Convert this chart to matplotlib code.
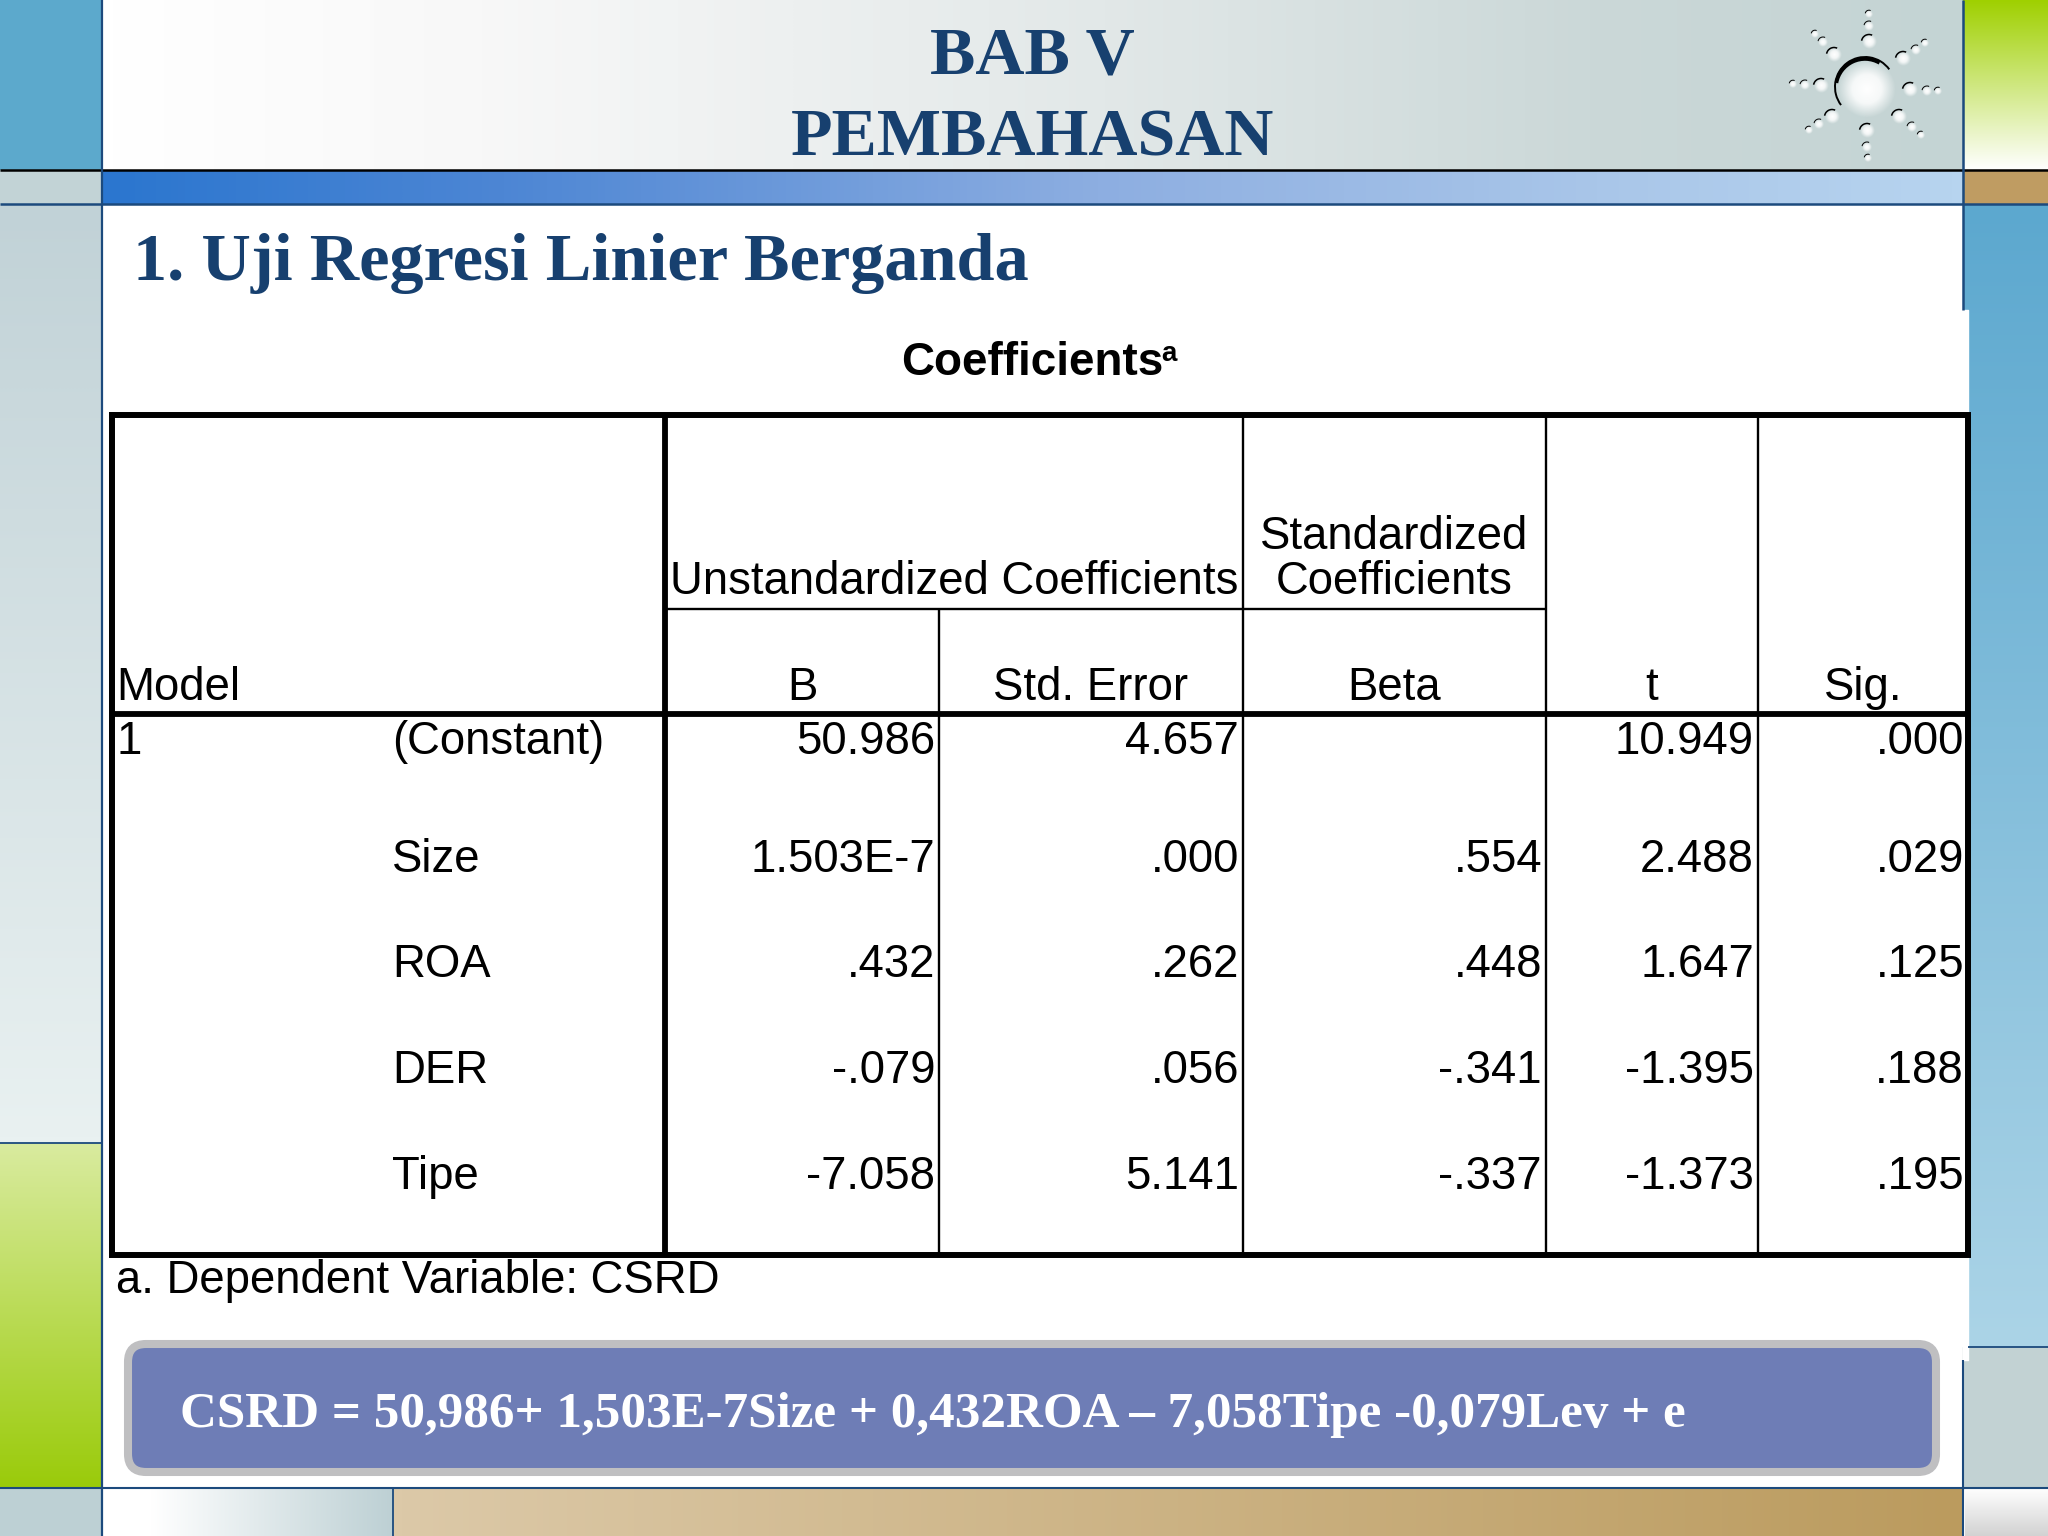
#!/usr/bin/env python3

import numpy as np
import matplotlib
matplotlib.use('Agg')
import matplotlib.pyplot as plt
from matplotlib.colors import LinearSegmentedColormap
from matplotlib.patches import Arc, FancyBboxPatch

SLIDE_TITLE = ['BAB V', 'PEMBAHASAN']
SECTION_TITLE = '1. Uji Regresi Linier Berganda'
TABLE_TITLE = 'Coefficients'
PREDICTORS = ['(Constant)', 'Size', 'ROA', 'DER', 'Tipe']
COL_B = ['50.986', '1.503E-7', '.432', '-.079', '-7.058']
COL_SE = ['4.657', '.000', '.262', '.056', '5.141']
COL_BETA = ['', '.554', '.448', '-.341', '-.337']
COL_T = ['10.949', '2.488', '1.647', '-1.395', '-1.373']
COL_SIG = ['.000', '.029', '.125', '.188', '.195']
FOOTNOTE = 'a. Dependent Variable: CSRD'
EQUATION = 'CSRD = 50,986+ 1,503E-7Size + 0,432ROA \u2013 7,058Tipe -0,079Lev + e'

NAVY = '#17406f'
LINE = '#1c4a7d'
SERIF = 'Liberation Serif'
SANS = 'Liberation Sans'


def gradient(ax, x0, x1, y0, y1, stops, horizontal=True):
    cmap = LinearSegmentedColormap.from_list('g', stops)
    ramp = np.linspace(0, 1, 256)
    img = ramp[None, :] if horizontal else ramp[:, None]
    ax.imshow(img, cmap=cmap, extent=(x0, x1, y1, y0), aspect='auto',
              interpolation='bilinear', zorder=1)


def bubble(ax, x, y, r):
    cmap = LinearSegmentedColormap.from_list(
        'b', [(1, 1, 1, 1), (1, 1, 1, 0.8), (1, 1, 1, 0)])
    yy, xx = np.mgrid[-1:1:64j, -1:1:64j]
    rr = np.clip(np.hypot(xx, yy), 0, 1)
    ax.imshow(rr, cmap=cmap, extent=(x - r, x + r, y + r, y - r),
              aspect='auto', zorder=3, interpolation='bilinear')
    # y axis is flipped, so these angles run over the top left
    ax.add_patch(Arc((x, y), 2 * r, 2 * r, theta1=190, theta2=295,
                     color='black', lw=1.1 if r > 6 else 0.7, zorder=4))


def draw_logo(ax):
    # one ray of three bubbles per row
    rays = [[(1869, 42), (1869, 26), (1869, 14)],
            [(1903, 59), (1916, 50), (1925, 43)],
            [(1910, 90), (1927, 91), (1938, 91)],
            [(1899, 117), (1912, 127), (1921, 135)],
            [(1867, 131), (1867, 147), (1868, 158)],
            [(1832, 117), (1819, 124), (1809, 130)],
            [(1821, 86), (1805, 85), (1793, 84)],
            [(1834, 55), (1823, 42), (1815, 34)]]
    for ray in rays:
        for (x, y), r in zip(ray, [7.5, 5, 3.8]):
            bubble(ax, x, y, r)

    cx, cy = 1865, 87
    glow = LinearSegmentedColormap.from_list(
        'glow', [(1, 1, 1, 1), (1, 1, 1, 0.85), (1, 1, 1, 0)])
    yy, xx = np.mgrid[-1:1:128j, -1:1:128j]
    rr = np.clip(np.hypot(xx, yy), 0, 1)
    ax.imshow(rr, cmap=glow, extent=(cx - 27, cx + 31, cy + 31, cy - 27),
              aspect='auto', zorder=3, interpolation='bilinear')
    ax.add_patch(Arc((cx, cy), 60, 60, theta1=143, theta2=324,
                     color='black', lw=1.4, zorder=4))
    ax.add_patch(Arc((cx, cy + 1), 58, 58, theta1=190, theta2=300,
                     color='black', lw=2.6, zorder=4))


def draw_background(ax):
    # left column
    ax.fill_between([0, 101], 0, 170, color='#5ca9cc', zorder=1)
    ax.fill_between([0, 101], 170, 204, color='#c2d3d6', zorder=1)
    gradient(ax, 0, 101, 204, 1143, ['#c1d2d7', '#e9f1f1'], horizontal=False)
    gradient(ax, 0, 101, 1143, 1488, ['#d9eb9f', '#9acb0a'], horizontal=False)
    ax.fill_between([0, 101], 1488, 1536, color='#bdd0d4', zorder=1)

    # header and coloured band
    gradient(ax, 102, 1963, 0, 170,
             [(0, '#ffffff'), (0.2, '#f8f8f8'), (0.54, '#e2e8e8'),
              (0.8, '#cbd8d8'), (1, '#c4d4d4')])
    gradient(ax, 102, 1963, 170, 204,
             [(0, '#2b76cf'), (0.214, '#4d86d4'), (0.536, '#8daee1'),
              (0.805, '#a9c6e9'), (1, '#b7d4ef')])

    # right column
    gradient(ax, 1963, 2048, 0, 170, ['#9fd000', '#ffffff'], horizontal=False)
    ax.fill_between([1963, 2048], 170, 204, color='#bf9c62', zorder=1)
    gradient(ax, 1963, 2048, 204, 1347, ['#5ca8cf', '#abd4e7'], horizontal=False)
    ax.fill_between([1963, 2048], 1347, 1488, color='#c2d2d3', zorder=1)
    gradient(ax, 1965, 2048, 1488, 1536, ['#ffffff', '#d2d2d2'], horizontal=False)

    # bottom strip
    gradient(ax, 102, 393, 1488, 1536,
             [(0, '#ffffff'), (0.17, '#ffffff'), (1, '#bdd0d4')])
    gradient(ax, 393, 1963, 1488, 1536, ['#dcc9a8', '#bb9b5e'])

    ax.hlines(170, 0, 2048, color='black', lw=1.8, zorder=5)
    ax.hlines(204, 0, 2048, color=LINE, lw=1.8, zorder=5)
    ax.hlines(1143, 0, 102, color=LINE, lw=1.3, zorder=5)
    ax.hlines(1488, 0, 2048, color=LINE, lw=1.5, zorder=5)
    ax.hlines(1347, 1968, 2048, color=LINE, lw=1.3, zorder=5)
    ax.vlines(102, 0, 1536, color=LINE, lw=1.6, zorder=5)
    ax.vlines(393, 1488, 1536, color=LINE, lw=1.3, zorder=5)
    ax.vlines(1963, 0, 310, color=LINE, lw=1.8, zorder=5)
    ax.vlines(1963, 1360, 1536, color=LINE, lw=1.5, zorder=5)

    # white slide body poking out over the right column
    ax.fill_between([1963, 1968], 310, 1360, color='white', zorder=2)


def draw_table(ax):
    left, right, top, bottom = 112, 1968, 415, 1255
    inner = [939, 1243, 1546, 1758]
    thick = 665
    head_mid, head_bottom = 609, 714

    ax.vlines(inner[0], head_mid, bottom, color='black', lw=1.7, zorder=6)
    for x in inner[1:]:
        ax.vlines(x, top, bottom, color='black', lw=1.7, zorder=6)
    ax.hlines(head_mid, thick, inner[2], color='black', lw=1.7, zorder=6)
    ax.hlines(head_bottom, left, right, color='black', lw=4.2, zorder=6)
    ax.vlines(thick, top, bottom, color='black', lw=4.2, zorder=6)
    ax.plot([left, right, right, left, left], [top, top, bottom, bottom, top],
            color='black', lw=4.3, solid_joinstyle='miter', zorder=6)

    fs = 32.8
    kw = dict(family=SANS, fontsize=fs, color='black', va='baseline', zorder=7)

    ax.text(1032, 375, TABLE_TITLE, family=SANS, fontsize=33, weight='bold',
            ha='center', va='baseline', zorder=7)
    ax.text(1161, 361, 'a', family=SANS, fontsize=20, weight='bold',
            ha='left', va='baseline', zorder=7)

    ax.text((thick + inner[1]) / 2, 594, 'Unstandardized Coefficients', ha='center', **kw)
    ax.text((inner[1] + inner[2]) / 2, 549, 'Standardized', ha='center', **kw)
    ax.text((inner[1] + inner[2]) / 2, 594, 'Coefficients', ha='center', **kw)

    ax.text(116, 700, 'Model', ha='left', **kw)
    headers = ['B', 'Std. Error', 'Beta', 't', 'Sig.']
    edges = [thick] + inner + [right]
    for name, x0, x1 in zip(headers, edges[:-1], edges[1:]):
        ax.text((x0 + x1) / 2, 700, name, ha='center', **kw)

    row_y = [754, 872, 977, 1083, 1189]
    ax.text(117, row_y[0], '1', ha='left', **kw)
    for i, y in enumerate(row_y):
        ax.text(392, y, PREDICTORS[i], ha='left', **kw)
        columns = [COL_B, COL_SE, COL_BETA, COL_T, COL_SIG]
        for col, x1 in zip(columns, edges[1:]):
            ax.text(x1 - 4, y, col[i], ha='right', **kw)

    ax.text(116, 1293, FOOTNOTE, ha='left', **kw)


def main():
    fig = plt.figure(figsize=(20.48, 15.36), dpi=100)
    ax = fig.add_axes([0, 0, 1, 1])

    draw_background(ax)
    draw_logo(ax)
    draw_table(ax)

    for line, y in zip(SLIDE_TITLE, [73.5, 155.5]):
        ax.text(1032, y, line, family=SERIF, weight='bold', fontsize=49,
                color=NAVY, ha='center', va='baseline', zorder=7)
    ax.text(133, 280, SECTION_TITLE, family=SERIF, weight='bold', fontsize=49.2,
            color=NAVY, ha='left', va='baseline', zorder=7)

    ax.add_patch(FancyBboxPatch((128, 1344), 1808, 128,
                                boxstyle='round,pad=0,rounding_size=18',
                                fc='#6e7db6', ec='#bfbfc1', lw=5.8, zorder=6))
    ax.text(180, 1427, EQUATION, family=SERIF, weight='bold', fontsize=36.85,
            color='white', ha='left', va='baseline', zorder=7)

    ax.set_xlim(0, 2048)
    ax.set_ylim(1536, 0)
    ax.axis('off')
    fig.savefig('out.png', dpi=100)


if __name__ == "__main__":
    main()
